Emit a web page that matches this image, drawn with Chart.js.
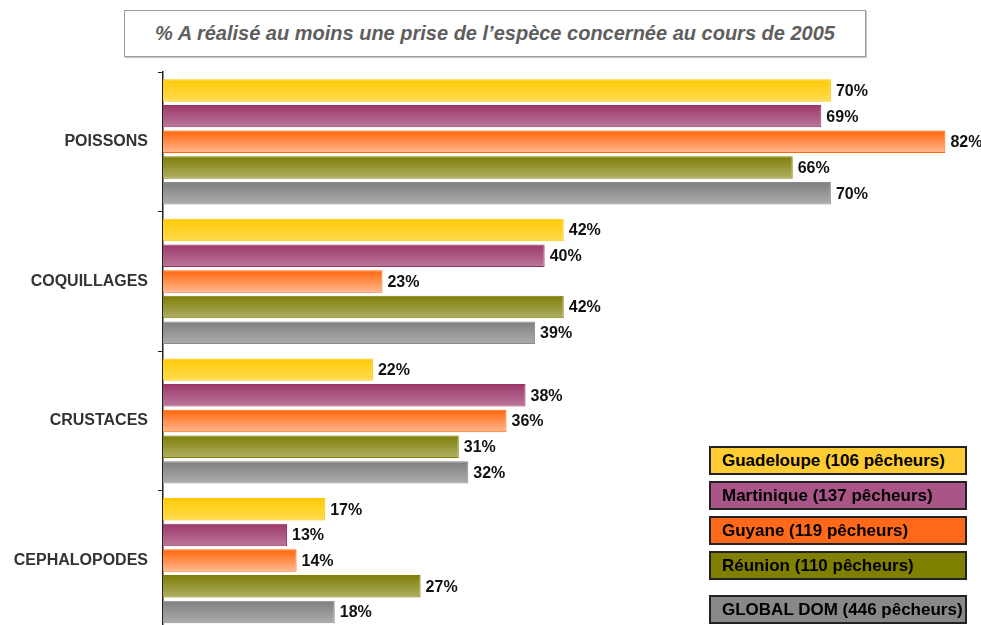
<!DOCTYPE html>
<html>
<head>
<meta charset="utf-8">
<script src="https://cdn.jsdelivr.net/npm/chart.js@4/dist/chart.umd.min.js"></script>
<style>
  body { margin: 0; width: 981px; height: 625px; overflow: hidden; background: #fff; position: relative;
         font-family: "Liberation Sans", Arial, sans-serif; }
  #chart { position: absolute; left: 0; top: 0; }
  #title { position: absolute; left: 124px; top: 10px; width: 740px; height: 45px; border: 1px solid #9a9a9a;
           box-shadow: 1px 1px 1px #ccc; text-align: center; color: #5e5e5e;
           font: italic bold 20px "Liberation Sans", Arial, sans-serif; line-height: 45px; }
  .leg { position: absolute; left: 709px; width: 243px; height: 25px; border: 2px solid #222;
         font: bold 17px "Liberation Sans", Arial, sans-serif; line-height: 26px; padding-left: 11px;
         color: #000; white-space: nowrap; overflow: hidden; }
</style>
</head>
<body>
<div id="title">% A réalisé au moins une prise de l’espèce concernée au cours de 2005</div>
<canvas id="chart" width="981" height="650"></canvas>
<div id="legend"></div>
<script>
// catégories et séries
const categories = ['POISSONS', 'COQUILLAGES', 'CRUSTACES', 'CEPHALOPODES'];
const seriesNames = ['Guadeloupe (106 pêcheurs)', 'Martinique (137 pêcheurs)', 'Guyane (119 pêcheurs)', 'Réunion (110 pêcheurs)', 'GLOBAL DOM (446 pêcheurs)'];
const guadeloupe = [70, 42, 22, 17];
const martinique = [69, 40, 38, 13];
const guyane = [82, 23, 36, 14];
const reunion = [66, 42, 31, 27];
const globalDom = [70, 39, 32, 18];
const xMax = 85;

const CAT_PCT = 0.92;
const BAR_PCT = 0.875;

// couleurs : haut (foncé), bas (clair), bordure, légende
const palette = [
  { top: '#FFC800', bottom: '#FFDD55', border: '#FFC400', legend: '#FFCC33' },
  { top: '#993366', bottom: '#BE7C9E', border: '#993366', legend: '#AA5588' },
  { top: '#FF6000', bottom: '#FFBF9C', border: '#FF6600', legend: '#FF6A1A' },
  { top: '#7A7A00', bottom: '#B3B36C', border: '#808000', legend: '#808000' },
  { top: '#7C7C7C', bottom: '#B0B0B0', border: '#8C8C8C', legend: '#888888' }
];
const values = [guadeloupe, martinique, guyane, reunion, globalDom];

function barFill(col) {
  return function (c) {
    const chart = c.chart, y = chart.scales.y;
    if (!chart.chartArea || !y || c.dataIndex === undefined) return col.top;
    const cat = (y.bottom - y.top) / categories.length;
    const group = cat * CAT_PCT;
    const pitch = group / values.length;
    const t = y.getPixelForValue(c.dataIndex) - group / 2 + c.datasetIndex * pitch;
    const g = chart.ctx.createLinearGradient(0, t, 0, t + pitch);
    g.addColorStop(0, col.top);
    g.addColorStop(1, col.bottom);
    return g;
  };
}

// étiquettes de valeur au bout des barres
const valueLabels = {
  id: 'valueLabels',
  afterDatasetsDraw(chart) {
    const ctx = chart.ctx;
    ctx.save();
    ctx.font = 'bold 16px "Liberation Sans", Arial, sans-serif';
    ctx.fillStyle = '#111';
    ctx.textBaseline = 'middle';
    chart.data.datasets.forEach((ds, i) => {
      chart.getDatasetMeta(i).data.forEach((bar, j) => {
        ctx.fillText(ds.data[j] + '%', bar.x + 5, bar.y + 1);
      });
    });
    ctx.restore();
  }
};

new Chart(document.getElementById('chart'), {
  type: 'bar',
  data: {
    labels: categories,
    datasets: seriesNames.map((name, i) => ({
      label: name,
      data: values[i],
      backgroundColor: barFill(palette[i]),
      borderColor: palette[i].border,
      borderWidth: 1,
      borderSkipped: 'start',
      categoryPercentage: CAT_PCT,
      barPercentage: BAR_PCT
    }))
  },
  options: {
    indexAxis: 'y',
    responsive: false,
    animation: false,
    devicePixelRatio: 1,
    layout: { padding: { left: 0, top: 72, right: 7, bottom: 2 } },
    plugins: { legend: { display: false }, tooltip: { enabled: false }, title: { display: false } },
    scales: {
      x: { display: false, min: 0, max: xMax },
      y: {
        afterFit(scale) { scale.width = 163; },
        border: { display: true, color: '#222', width: 1.5 },
        grid: { drawOnChartArea: false, offset: true, tickLength: 5, color: '#222', lineWidth: 1 },
        ticks: { color: '#333', padding: 10, font: { family: '"Liberation Sans", Arial, sans-serif', size: 16, weight: 'bold' } }
      }
    }
  },
  plugins: [valueLabels]
});

// légende
const legTops = [446, 481, 516, 551, 595];
const legend = document.getElementById('legend');
seriesNames.forEach((name, i) => {
  const d = document.createElement('div');
  d.className = 'leg';
  d.style.top = legTops[i] + 'px';
  d.style.background = palette[i].legend;
  d.textContent = name;
  legend.appendChild(d);
});
</script>
</body>
</html>
